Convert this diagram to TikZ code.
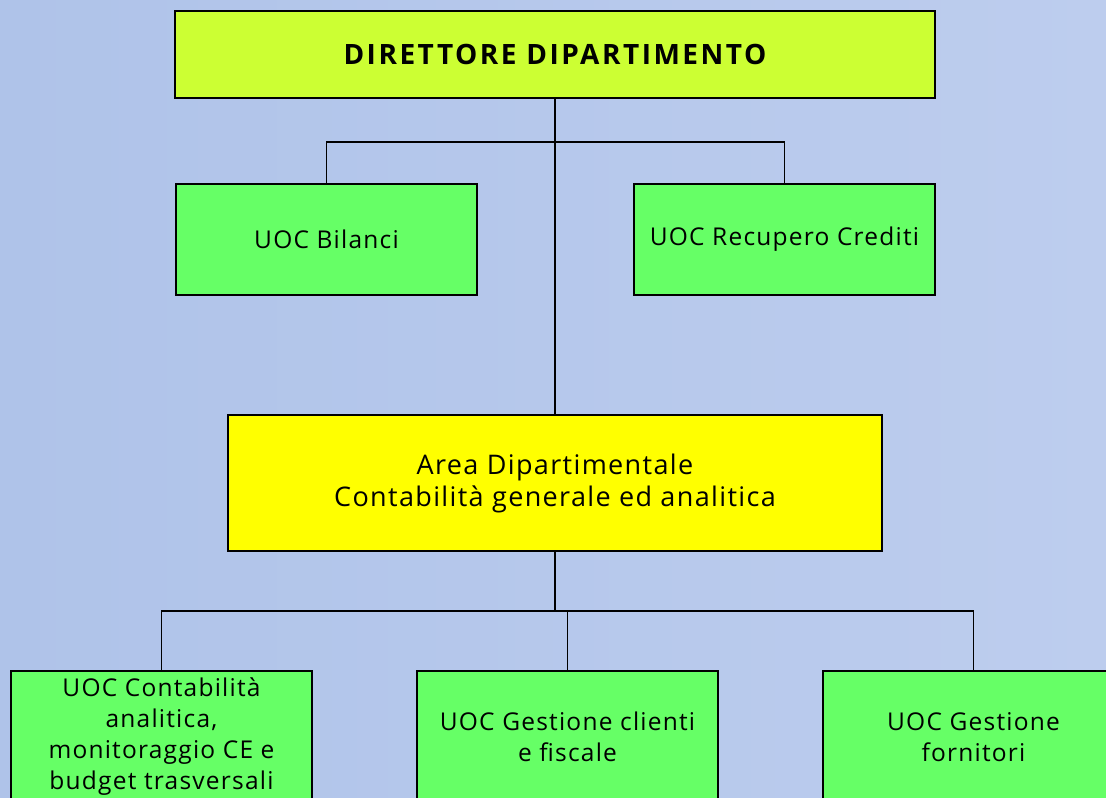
\documentclass[tikz,border=0pt]{standalone}
\usepackage{fontspec}
\setmainfont[LetterSpace=5]{Open Sans}
\newfontfamily\titlefont[LetterSpace=9]{Open Sans}
\usepackage{tikz}
\definecolor{sfondoA}{HTML}{AFC3E9}
\definecolor{sfondoB}{HTML}{BDCDEE}
\definecolor{lime}{HTML}{CCFF33}
\definecolor{verde}{HTML}{66FF66}
\definecolor{giallo}{HTML}{FFFF00}
\usetikzlibrary{positioning,calc}

\tikzset{
  ufficio/.style={draw=black,line width=1.8pt,align=center,inner sep=4pt,
    font=\fontsize{24.5}{31}\selectfont},
  ramo/.style={draw=black,line width=1.2pt},
  tronco/.style={draw=black,line width=2pt}
}

\begin{document}
\begin{tikzpicture}[x=1pt,y=-1pt]
  % sfondo
\useasboundingbox (0,0) rectangle (1106,798);
\clip (0,0) rectangle (1106,798);
\shade[left color=sfondoA,right color=sfondoB] (0,0) rectangle (1106,798);

% Direttore
\node[ufficio,fill=lime,minimum width=760pt,minimum height=87pt,
  font=\titlefont\fontsize{28}{32}\selectfont\bfseries] at (555,54.5) (dir) {DIRETTORE DIPARTIMENTO};

% UOC in staff
\node[ufficio,fill=verde,minimum width=301pt,minimum height=111pt] at (326.5,239.5) (bil) {UOC Bilanci};
\node[ufficio,fill=verde,minimum width=301pt,minimum height=111pt] at (784.5,239.5) (rec) {UOC Recupero Crediti};

% Area
\node[ufficio,fill=giallo,minimum width=654pt,minimum height=136pt,
  font=\fontsize{27}{32}\selectfont] at (555,483) (area) {Area Dipartimentale\\Contabilità generale ed analitica};

% UOC dell'area
\node[ufficio,fill=verde,minimum width=301pt,minimum height=132pt] at (161.5,737) (cont) {UOC Contabilità\\analitica,\\monitoraggio CE e\\budget trasversali};
\node[ufficio,fill=verde,minimum width=301pt,minimum height=132pt] at (567.5,737) (cli) {UOC Gestione clienti\\e fiscale};
\node[ufficio,fill=verde,minimum width=301pt,minimum height=132pt] at (973.5,737) (forn) {UOC Gestione\\fornitori};

% collegamenti
\coordinate (j1) at (555,142);
\coordinate (j2) at (555,611);

\draw[tronco] (dir.south) -- (area.north);
\draw[ramo] (bil.north) |- (j1) -| (rec.north);

\draw[tronco] (area.south) -- (j2);
\draw[ramo] (cont.north) |- (j2) -| (forn.north);
\draw[ramo] (cli.north) -- (cli.north |- j2);
\end{tikzpicture}
\end{document}
